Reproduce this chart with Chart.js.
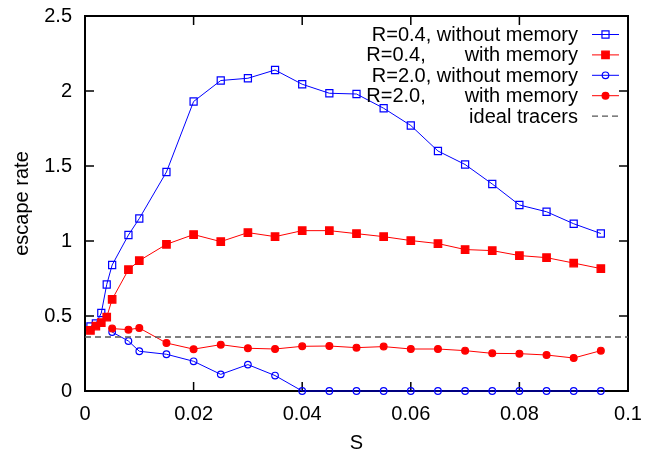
<!DOCTYPE html>
<html><head><meta charset="utf-8">
<script src="https://cdn.jsdelivr.net/npm/chart.js@4/dist/chart.umd.min.js"></script>
<style>html,body{margin:0;padding:0;background:#fff}canvas{display:block}</style>
</head><body>
<canvas id="c" width="646" height="455"></canvas>
<script>
// ---- data ----
const sR04 = [0.001,0.002,0.003,0.004,0.005,0.008,0.01,0.015,0.02,0.025,0.03,0.035,0.04,0.045,0.05,0.055,0.06,0.065,0.07,0.075,0.08,0.085,0.09,0.095];
const r04NoMem = [0.43,0.45,0.52,0.71,0.84,1.04,1.15,1.46,1.93,2.07,2.085,2.14,2.045,1.985,1.98,1.885,1.77,1.6,1.51,1.38,1.24,1.195,1.115,1.05];
const r04Mem   = [0.404,0.433,0.456,0.493,0.611,0.809,0.869,0.978,1.043,0.996,1.056,1.029,1.069,1.069,1.049,1.029,1.003,0.983,0.943,0.936,0.903,0.889,0.853,0.816];
const sR20 = [0.005,0.008,0.01,0.015,0.02,0.025,0.03,0.035,0.04,0.045,0.05,0.055,0.06,0.065,0.07,0.075,0.08,0.085,0.09,0.095];
const r20NoMem = [0.393,0.333,0.265,0.245,0.198,0.111,0.176,0.103,0,0,0,0,0,0,0,0,0,0,0,0];
const r20Mem   = [0.416,0.409,0.42,0.32,0.279,0.309,0.285,0.28,0.298,0.30,0.289,0.296,0.28,0.28,0.269,0.251,0.249,0.24,0.22,0.269];
const idealS = [0, 0.1];
const idealRate = [0.36, 0.36];
const seriesLabels = ['R=0.4, without memory','R=0.4,       with memory','R=2.0, without memory','R=2.0,       with memory','ideal tracers'];
const xTicks = [0,0.02,0.04,0.06,0.08,0.1];
const xTickLabels = ['0','0.02','0.04','0.06','0.08','0.1'];
const yTicks = [0,0.5,1,1.5,2,2.5];
const yTickLabels = ['0','0.5','1','1.5','2','2.5'];
const xTitle = 'S';
const yTitle = 'escape rate';

const FONT = "'Liberation Sans', Arial, Helvetica, sans-serif";
Chart.defaults.font.family = FONT;
Chart.defaults.font.size = 20;
Chart.defaults.color = '#000';

const pts = (xs, ys) => xs.map((x,i)=>({x, y: ys[i]}));
const BLUE = '#0000ff', RED = '#ff0000', GRAY = '#555555';

const datasets = [
  {label: seriesLabels[0], data: pts(sR04, r04NoMem), borderColor: BLUE, backgroundColor: 'rgba(0,0,0,0)',
   pointStyle: 'rect', pointRadius: 5, pointBorderColor: BLUE, pointBackgroundColor: 'rgba(0,0,0,0)', order: 4},
  {label: seriesLabels[1], data: pts(sR04, r04Mem), borderColor: RED, backgroundColor: RED,
   pointStyle: 'rect', pointRadius: 5.3, pointBorderColor: RED, pointBackgroundColor: RED, order: 3},
  {label: seriesLabels[2], data: pts(sR20, r20NoMem), borderColor: BLUE, backgroundColor: 'rgba(0,0,0,0)',
   pointStyle: 'circle', pointRadius: 3.3, pointBorderColor: BLUE, pointBackgroundColor: 'rgba(0,0,0,0)', order: 2},
  {label: seriesLabels[3], data: pts(sR20, r20Mem), borderColor: RED, backgroundColor: RED,
   pointStyle: 'circle', pointRadius: 3.4, pointBorderColor: RED, pointBackgroundColor: RED, order: 1},
  {label: seriesLabels[4], data: pts(idealS, idealRate), borderColor: GRAY, borderDash: [6,4], borderWidth: 1.3,
   pointRadius: 0, order: 0}
].map(d => Object.assign({borderWidth: 1, pointBorderWidth: 1.2, tension: 0, clip: false, fill: false}, d));

function drawMarker(ctx, ds, x, y) {
  if (!ds.pointRadius) return;
  ctx.save();
  ctx.lineWidth = ds.pointBorderWidth;
  ctx.strokeStyle = ds.pointBorderColor;
  ctx.fillStyle = ds.pointBackgroundColor;
  ctx.setLineDash([]);
  ctx.beginPath();
  if (ds.pointStyle === 'rect') {
    const s = ds.pointRadius * Math.SQRT1_2;
    ctx.rect(x - s, y - s, 2*s, 2*s);
  } else {
    ctx.arc(x, y, ds.pointRadius, 0, Math.PI*2);
  }
  ctx.fill(); ctx.stroke();
  ctx.restore();
}

const framePlugin = {
  id: 'frame',
  beforeDatasetsDraw(chart) {
    const {ctx, chartArea: a, scales: {x, y}} = chart;
    ctx.save();
    ctx.strokeStyle = '#000';
    ctx.lineWidth = 1.5;
    ctx.beginPath();
    const T = 9;
    xTicks.forEach(v => { const p = x.getPixelForValue(v);
      ctx.moveTo(p, a.bottom); ctx.lineTo(p, a.bottom - T);
      ctx.moveTo(p, a.top); ctx.lineTo(p, a.top + T); });
    yTicks.forEach(v => { const p = y.getPixelForValue(v);
      ctx.moveTo(a.left, p); ctx.lineTo(a.left + T, p);
      ctx.moveTo(a.right, p); ctx.lineTo(a.right - T, p); });
    ctx.stroke();
    ctx.lineWidth = 2;
    ctx.strokeRect(a.left, a.top, a.right - a.left, a.bottom - a.top);
    ctx.restore();
  },
  afterDatasetsDraw(chart) {
    const {ctx, chartArea: a} = chart;
    const dsets = chart.data.datasets;
    ctx.save();
    ctx.font = '20px ' + FONT;
    ctx.textAlign = 'right';
    ctx.textBaseline = 'middle';
    ctx.fillStyle = '#000';
    const textRight = a.right - 50, sx0 = a.right - 36, sx1 = a.right - 9;
    dsets.forEach((ds, i) => {
      const yy = a.top + 18.5 + i * 20.4;
      ctx.fillText(ds.label, textRight, yy + 1);
      ctx.save();
      ctx.strokeStyle = ds.borderColor;
      ctx.lineWidth = ds.borderWidth;
      ctx.setLineDash(ds.borderDash || []);
      ctx.beginPath(); ctx.moveTo(sx0, yy); ctx.lineTo(sx1, yy); ctx.stroke();
      ctx.restore();
      drawMarker(ctx, ds, (sx0 + sx1) / 2, yy);
    });
    ctx.restore();
  }
};

new Chart(document.getElementById('c'), {
  type: 'line',
  data: {datasets},
  options: {
    responsive: false,
    animation: false,
    devicePixelRatio: 1,
    layout: {padding: {top: 16, right: 18, left: 0, bottom: 0}},
    plugins: {legend: {display: false}, tooltip: {enabled: false}},
    scales: {
      x: {
        type: 'linear', min: 0, max: 0.1,
        afterFit(s) { s.height = 64; s.paddingLeft = 0; s.paddingRight = 0; },
        afterBuildTicks(s) { s.ticks = xTicks.map(v => ({value: v})); },
        grid: {display: false, drawTicks: false},
        border: {display: false},
        ticks: {padding: 11, maxRotation: 0, autoSkip: false,
          callback: (v) => { const i = xTicks.findIndex(t => Math.abs(t - v) < 1e-9); return i >= 0 ? xTickLabels[i] : ''; }},
        title: {display: true, text: xTitle, font: {size: 20}, padding: {top: 0, bottom: 0}}
      },
      y: {
        type: 'linear', min: 0, max: 2.5,
        afterFit(s) { s.width = 85; s.paddingTop = 0; s.paddingBottom = 0; },
        afterBuildTicks(s) { s.ticks = yTicks.map(v => ({value: v})); },
        grid: {display: false, drawTicks: false},
        border: {display: false},
        ticks: {padding: 13, autoSkip: false,
          callback: (v) => { const i = yTicks.findIndex(t => Math.abs(t - v) < 1e-9); return i >= 0 ? yTickLabels[i] : ''; }},
        title: {display: true, text: yTitle, font: {size: 20}, padding: {top: 10, bottom: 0}}
      }
    }
  },
  plugins: [framePlugin]
});
</script>
</body></html>
